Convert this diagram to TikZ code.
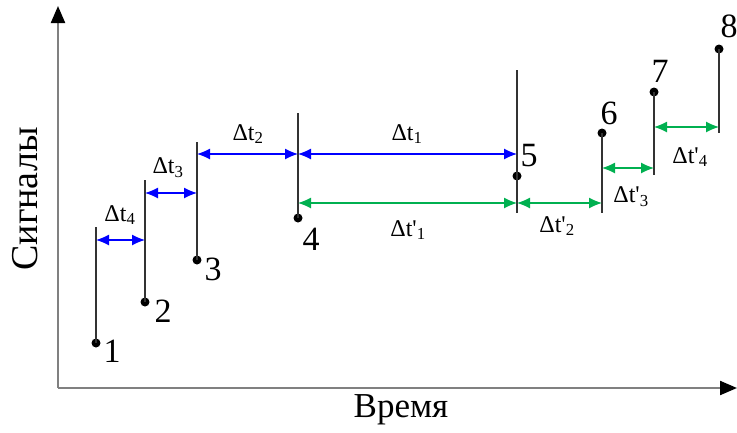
\documentclass[tikz,border=0pt]{standalone}
\usepackage{fontspec}
\setmainfont{Liberation Serif}
\usetikzlibrary{arrows.meta}
\definecolor{dimgreen}{RGB}{0,176,80}

\begin{document}
\begin{tikzpicture}[x=1pt,y=-1pt,
  sig/.style={line width=1.4pt,black!80},
  pt/.style={circle,fill=black,inner sep=0pt,minimum size=9pt},
  bdim/.style={blue,line width=1.2pt,{Latex[length=13pt,width=11pt]}-{Latex[length=13pt,width=11pt]}},
  gdim/.style={dimgreen,line width=1.2pt,{Latex[length=13pt,width=11pt]}-{Latex[length=13pt,width=11pt]}},
  num/.style={font=\fontsize{34}{34}\selectfont},
  dlab/.style={font=\fontsize{24}{24}\selectfont},
  axlab/.style={font=\fontsize{35}{35}\selectfont}]
\useasboundingbox (0,0) rectangle (737,432);
% Axes
\coordinate (O) at (58,388);
\coordinate (ytop) at (58,6);
\coordinate (xend) at (737,388);
\draw[gray,line width=2.2pt,-{Triangle[length=17pt,width=14pt,color=black]}] (O) -- (ytop);
\draw[gray,line width=2.2pt,-{Triangle[length=17pt,width=14pt,color=black]}] (O) -- (xend);
\node[axlab,rotate=90,font=\fontsize{38}{38}\selectfont] (ylab) at (25,199) {Сигналы};
\node[axlab] (xlab) at (401,410) {Время};

% Signals (first group: dot at the bottom)
\node[pt] (p1) at (96,343) {};
\node[pt] (p2) at (145,302) {};
\node[pt] (p3) at (197,260) {};
\node[pt] (p4) at (298,218) {};
\coordinate (t1) at (96,227);
\coordinate (t2) at (145,180);
\coordinate (t3) at (197,142);
\coordinate (t4) at (298,113);
\draw[sig] (t1) -- (p1.center);
\draw[sig] (t2) -- (p2.center);
\draw[sig] (t3) -- (p3.center);
\draw[sig] (t4) -- (p4.center);

% Signals (second group: dot at the top)
\node[pt] (p5) at (517,176) {};
\node[pt] (p6) at (602,133) {};
\node[pt] (p7) at (654,92) {};
\node[pt] (p8) at (719,49) {};
\coordinate (t5) at (517,70);
\coordinate (b5) at (517,213);
\coordinate (b6) at (602,213);
\coordinate (b7) at (654,175);
\coordinate (b8) at (719,133);
\draw[sig] (t5) -- (b5);
\draw[sig] (p6.center) -- (b6);
\draw[sig] (p7.center) -- (b7);
\draw[sig] (p8.center) -- (b8);

% Numbers
\node[num] (n1) at (112,351) {1};
\node[num] (n2) at (163,311) {2};
\node[num] (n3) at (213,269) {3};
\node[num] (n4) at (311,239) {4};
\node[num] (n5) at (529,156) {5};
\node[num] (n6) at (609,113) {6};
\node[num] (n7) at (660,71) {7};
\node[num] (n8) at (729,26) {8};

% Intervals (blue)
\coordinate (d4a) at (96,240);  \coordinate (d4b) at (145,240);
\coordinate (d3a) at (145,193); \coordinate (d3b) at (197,193);
\coordinate (d2a) at (197,154); \coordinate (d2b) at (298,154);
\coordinate (d1a) at (298,154); \coordinate (d1b) at (517,154);
\draw[bdim] (d4a) -- (d4b);
\draw[bdim] (d3a) -- (d3b);
\draw[bdim] (d2a) -- (d2b);
\draw[bdim] (d1a) -- (d1b);
\node[dlab] (l4) at (120,215) {Δt\textsubscript{4}};
\node[dlab] (l3) at (168,168) {Δt\textsubscript{3}};
\node[dlab] (l2) at (248,134) {Δt\textsubscript{2}};
\node[dlab] (l1) at (407,134) {Δt\textsubscript{1}};

% Intervals (green)
\coordinate (e1a) at (298,203); \coordinate (e1b) at (517,203);
\coordinate (e2a) at (517,203); \coordinate (e2b) at (602,203);
\coordinate (e3a) at (602,168); \coordinate (e3b) at (654,168);
\coordinate (e4a) at (654,127); \coordinate (e4b) at (719,127);
\draw[gdim] (e1a) -- (e1b);
\draw[gdim] (e2a) -- (e2b);
\draw[gdim] (e3a) -- (e3b);
\draw[gdim] (e4a) -- (e4b);
\node[dlab] (m1) at (408,230) {Δt\textquotesingle\textsubscript{1}};
\node[dlab] (m2) at (557,226) {Δt\textquotesingle\textsubscript{2}};
\node[dlab] (m3) at (631,197) {Δt\textquotesingle\textsubscript{3}};
\node[dlab] (m4) at (690,157) {Δt\textquotesingle\textsubscript{4}};
\end{tikzpicture}
\end{document}
